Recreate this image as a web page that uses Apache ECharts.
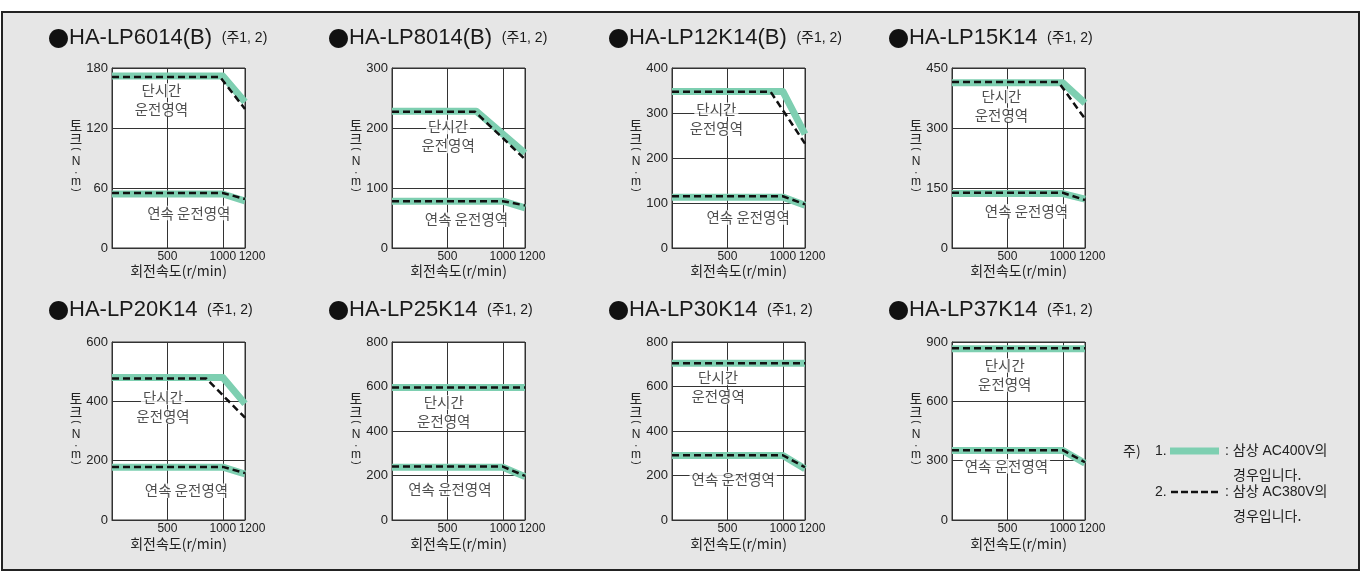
<!DOCTYPE html>
<html><head><meta charset="utf-8">
<script src="https://cdn.jsdelivr.net/npm/echarts@6/dist/echarts.min.js"></script>
<style>html,body{margin:0;padding:0;background:#fff}#c{width:1366px;height:573px}</style>
</head><body><div id="c"></div><script>
// ---- data ----
const titles = ['HA-LP6014(B)', 'HA-LP8014(B)', 'HA-LP12K14(B)', 'HA-LP15K14', 'HA-LP20K14', 'HA-LP25K14', 'HA-LP30K14', 'HA-LP37K14'];
const noteText = '(주1, 2)';
const yMax = [180, 300, 400, 450, 600, 800, 800, 900];
const yInterval = [60, 100, 100, 150, 200, 200, 200, 300];
const xMax = 1200;
const xInterval = 500;
const xTickLabels = [500, 1000];
const xMaxLabel = [1200];
// short-time operating region (AC400V = green band, AC380V = dashed)
const shortAC400 = [
  [[0,172],[1000,172],[1200,146]],
  [[0,228],[760,228],[1200,158]],
  [[0,348],[1000,348],[1200,253]],
  [[0,413],[1000,413],[1200,362]],
  [[0,480],[1000,480],[1200,392]],
  [[0,595],[1200,595]],
  [[0,704],[1200,704]],
  [[0,866],[1200,866]]
];
const shortAC380 = [
  [[0,171],[975,171],[1200,139]],
  [[0,227],[750,227],[1200,148]],
  [[0,347],[890,347],[1200,232]],
  [[0,415],[960,415],[1200,323]],
  [[0,477],[850,477],[1200,345]],
  [[0,595],[1200,595]],
  [[0,705],[1200,705]],
  [[0,868],[1200,868]]
];
// continuous operating region
const contAC400 = [
  [[0,54],[1000,54],[1200,47]],
  [[0,78],[1000,78],[1200,67]],
  [[0,113],[1000,113],[1200,95]],
  [[0,136],[1000,136],[1200,122]],
  [[0,178],[1000,178],[1200,155]],
  [[0,237],[1000,237],[1200,195]],
  [[0,290],[1000,290],[1200,230]],
  [[0,351],[1000,351],[1200,287]]
];
const contAC380 = [
  [[0,55],[1000,55],[1200,49]],
  [[0,78],[1000,78],[1200,71]],
  [[0,115],[1000,115],[1200,97]],
  [[0,138],[1000,138],[1200,120]],
  [[0,179],[1000,179],[1200,158]],
  [[0,240],[1000,240],[1200,198]],
  [[0,291],[1000,291],[1200,237]],
  [[0,353],[1000,353],[1200,292]]
];
// region label anchors (data coords)
const shortLabelPos = [[446,148],[506,186],[400,286],[446,356],[460,380],[467,485],[416,596],[476,733]];
const contLabelPos = [[693,35],[672,47],[687,68],[672,92],[672,99],[522,135],[552,182],[491,272]];
const shortLabelText = ['단시간', '운전영역'];
const contLabelText = '연속 운전영역';
const yNameChars = ['토','크','(','N','·','m',')'];
const xName = '회전속도(r/min)';
const legendItems = [
  {num: '1.', line1: ': 삼상 AC400V의', line2: '경우입니다.'},
  {num: '2.', line1: ': 삼상 AC380V의', line2: '경우입니다.'}
];

// ---- style / layout ----
const GREEN = '#7ecfb1';
const DARK = '#111';
const TXT = '#222';
const NUMF = "'Liberation Sans', 'Noto Sans CJK KR', sans-serif";
const TITF = "'Liberation Sans', 'Noto Sans CJK KR', sans-serif";
const KRF = "'Noto Sans CJK KR', sans-serif";
const COL_LEFT = [112, 392, 672, 952];
const ROW_TOP = [68, 342];
const ROW_H = [180, 178];
const GW = 133;
const TITLE_Y = [38, 310];
const TITLE_X = [48, 328, 608, 888];
const YNAME_DX = 36;
const YNAME_OFF = [-32, -19, -9, 4, 15, 24, 32];
const XFS = 12;

const option = {
  backgroundColor: '#fff',
  animation: false,
  grid: [], xAxis: [], yAxis: [], series: [], graphic: []
};

option.graphic.push({
  type: 'rect', z: -10, silent: true,
  shape: {x: 2, y: 12, width: 1357, height: 558},
  style: {fill: '#e6e6e6', stroke: '#222', lineWidth: 2}
});

for (let i = 0; i < 8; i++) {
  const r = i < 4 ? 0 : 1, c = i % 4;
  option.grid.push({
    left: COL_LEFT[c], top: ROW_TOP[r], width: GW, height: ROW_H[r],
    show: true, backgroundColor: '#fff', borderColor: '#333', borderWidth: 1,
    containLabel: false, outerBoundsMode: 'none'
  });
  // main x axis (lines, 500/1000 labels, name)
  option.xAxis.push({
    type: 'value', gridIndex: i, position: 'bottom', min: 0, max: xMax, interval: xInterval,
    axisLine: {show: true, lineStyle: {color: '#333', width: 1}},
    axisTick: {show: false},
    splitLine: {show: true, lineStyle: {color: '#333', width: 1}},
    axisLabel: {color: TXT, fontFamily: NUMF, fontSize: XFS, margin: 3,
      customValues: xTickLabels, hideOverlap: false,
      formatter: v => String(v)},
    name: xName, nameLocation: 'middle', nameGap: r === 0 ? 12 : 17,
    nameTextStyle: {color: TXT, fontFamily: KRF, fontSize: 14}
  });
  // companion x axis on same grid carrying only the max label (avoids overlap culling)
  option.xAxis.push({
    type: 'value', gridIndex: i, position: 'bottom', min: 0, max: xMax, interval: xInterval,
    axisLine: {show: false}, axisTick: {show: false}, splitLine: {show: false},
    axisLabel: {color: TXT, fontFamily: NUMF, fontSize: XFS, margin: 3,
      customValues: xMaxLabel, hideOverlap: false, showMaxLabel: true,
      formatter: v => '{r|' + String(v) + '}',
      rich: {r: {padding: [0, 0, 0, 14], fontSize: XFS, fontFamily: NUMF, color: TXT}}}
  });
  option.yAxis.push({
    type: 'value', gridIndex: i, min: 0, max: yMax[i], interval: yInterval[i],
    axisLine: {show: true, lineStyle: {color: '#333', width: 1}},
    axisTick: {show: false},
    splitLine: {show: true, lineStyle: {color: '#333', width: 1}},
    axisLabel: {color: TXT, fontFamily: NUMF, fontSize: 13, margin: 4, formatter: v => String(v)}
  });
  const xi = 2 * i;
  const base = {type: 'line', xAxisIndex: xi, yAxisIndex: i, symbol: 'none', showSymbol: false, silent: true, clip: true};
  option.series.push(Object.assign({}, base, {data: shortAC400[i], z: 3, lineStyle: {color: GREEN, width: 7, join: 'round'}}));
  option.series.push(Object.assign({}, base, {data: contAC400[i], z: 3, lineStyle: {color: GREEN, width: 7}}));
  option.series.push(Object.assign({}, base, {data: shortAC380[i], z: 4, lineStyle: {color: DARK, width: 2.5, type: [7, 4]}}));
  option.series.push(Object.assign({}, base, {data: contAC380[i], z: 4, lineStyle: {color: DARK, width: 2.5, type: [7, 4]}}));
  const rich = {a: {backgroundColor: '#fff', padding: [0, 2], lineHeight: 19, fontSize: 14.5, fontFamily: KRF, color: TXT}};
  option.series.push({
    type: 'scatter', xAxisIndex: xi, yAxisIndex: i, symbolSize: 0, silent: true, z: 2,
    label: {show: true, position: 'inside', rich: rich, align: 'center', verticalAlign: 'middle'},
    data: [
      {value: shortLabelPos[i], label: {formatter: shortLabelText.map(t => '{a|' + t + '}').join('\n')}},
      {value: contLabelPos[i], label: {formatter: '{a|' + contLabelText + '}'}}
    ]
  });
  // title
  option.graphic.push({
    type: 'text', x: TITLE_X[c], y: TITLE_Y[r], silent: true,
    style: {
      text: '{d|●}{t|' + titles[i] + '}  {s|' + noteText + '}',
      verticalAlign: 'middle',
      rich: {
        d: {fontSize: 21, fontFamily: KRF, fill: '#111'},
        t: {fontSize: 22, fontFamily: TITF, fill: '#1a1a1a'},
        s: {fontSize: 14, fontFamily: NUMF, fill: '#1a1a1a', padding: [0, 0, 0, 3]}
      }
    }
  });
  // vertical y-axis name: 토크(N·m)
  const cx = COL_LEFT[c] - YNAME_DX, cy = ROW_TOP[r] + ROW_H[r] / 2;
  yNameChars.forEach((ch, k) => {
    const isParen = ch === '(' || ch === ')';
    const isKr = ch === '토' || ch === '크';
    option.graphic.push({
      type: 'text', x: cx, y: cy + YNAME_OFF[k], silent: true,
      rotation: isParen ? -Math.PI / 2 : 0,
      style: {
        text: ch, align: 'center', verticalAlign: 'middle', fill: TXT,
        fontSize: isKr ? 13.5 : (isParen ? 10 : 12),
        fontFamily: isKr ? KRF : TITF
      }
    });
  });
}

// legend
option.graphic.push({type: 'text', x: 1123, y: 451, silent: true,
  style: {text: '주)', fontSize: 14, fontFamily: KRF, fill: TXT, verticalAlign: 'middle'}});
const LEG_Y = [451, 492];
legendItems.forEach((it, k) => {
  const y = LEG_Y[k];
  option.graphic.push({type: 'text', x: 1155, y: y, silent: true,
    style: {text: it.num, fontSize: 14, fontFamily: NUMF, fill: TXT, verticalAlign: 'middle'}});
  if (k === 0) {
    option.graphic.push({type: 'rect', silent: true, shape: {x: 1170, y: y - 3.5, width: 49, height: 7}, style: {fill: GREEN}});
  } else {
    option.graphic.push({type: 'line', silent: true, shape: {x1: 1171, y1: y, x2: 1219, y2: y},
      style: {stroke: DARK, lineWidth: 2.5, lineDash: [7, 3]}});
  }
  option.graphic.push({type: 'text', x: 1225, y: y, silent: true,
    style: {text: it.line1, fontSize: 14, fontFamily: NUMF, fill: TXT, verticalAlign: 'middle'}});
  option.graphic.push({type: 'text', x: 1233, y: y + 24, silent: true,
    style: {text: it.line2, fontSize: 14, fontFamily: KRF, fill: TXT, verticalAlign: 'middle'}});
});

const chart = echarts.init(document.getElementById('c'), null, {renderer: 'canvas'});
chart.setOption(option);
</script></body></html>
